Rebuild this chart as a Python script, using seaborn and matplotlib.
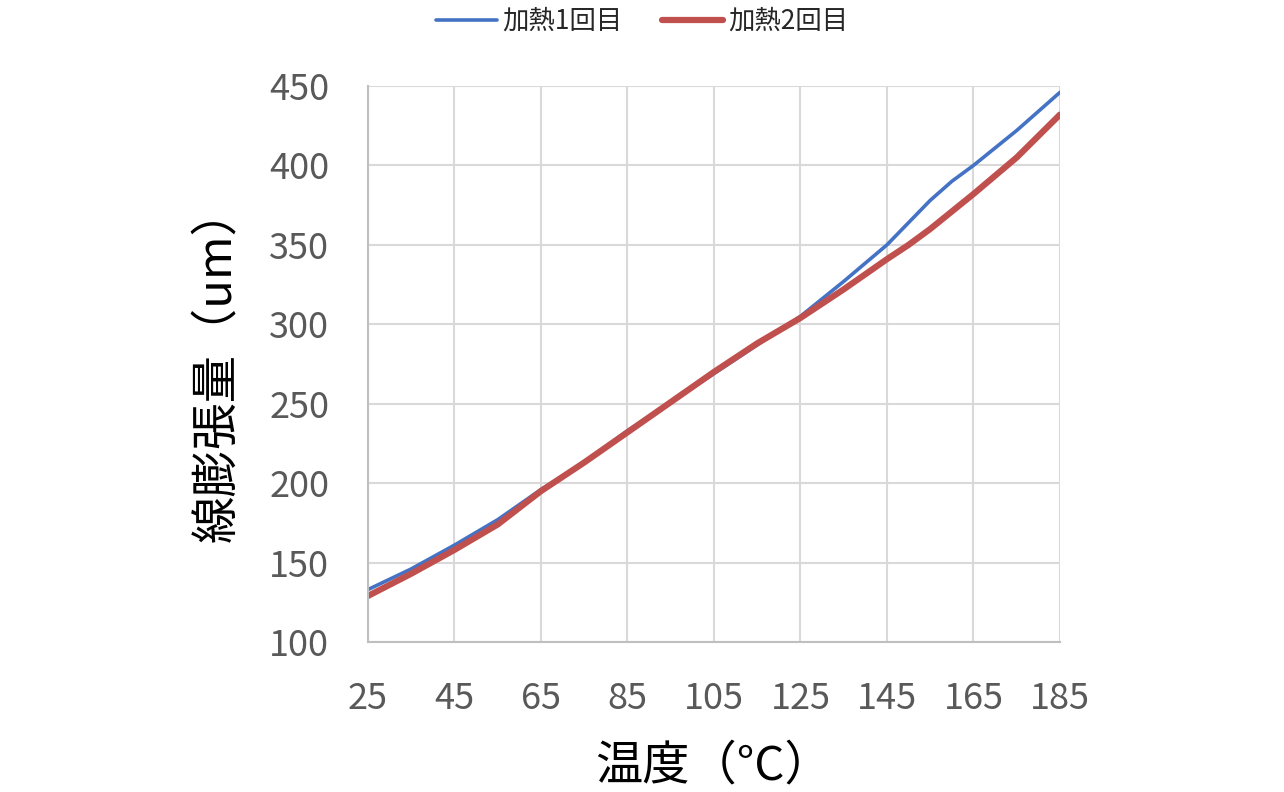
import matplotlib
matplotlib.use("Agg")
import pandas as pd
import matplotlib.pyplot as plt
import seaborn as sns
from matplotlib.lines import Line2D

# データ
temps = [25, 35, 45, 55, 65, 75, 85, 95, 105, 115, 125, 135, 145, 150, 155, 160, 165, 175, 185]
heat1 = [133, 146, 161, 177, 196, 213, 233, 251, 269, 287, 305, 327, 350, 364, 378, 390, 400, 422, 446]
heat2 = [129, 143, 158, 174, 195, 213, 232, 251, 270, 288, 304, 322, 341, 350, 360, 371, 382, 405, 432]
series_names = ["加熱1回目", "加熱2回目"]
x_ticks = [25, 45, 65, 85, 105, 125, 145, 165, 185]
y_ticks = [100, 150, 200, 250, 300, 350, 400, 450]

df = pd.DataFrame({"温度": temps * 2,
                   "値": heat1 + heat2,
                   "系列": [series_names[0]] * len(temps) + [series_names[1]] * len(temps)})

sns.set_style("white")
plt.rcParams["font.family"] = ["Noto Sans CJK JP", "DejaVu Sans"]

fig = plt.figure(figsize=(12.84, 7.92), dpi=100)
ax = fig.add_axes([0.2866, 0.1894, 0.5389, 0.702])

palette = {series_names[0]: "#4472C4", series_names[1]: "#C0504D"}
sns.lineplot(data=df, x="温度", y="値", hue="系列", palette=palette, ax=ax,
             size="系列", sizes={series_names[0]: 2.6, series_names[1]: 4.5},
             legend=False)
for line in ax.lines:
    line.set_solid_capstyle("round")
    line.set_solid_joinstyle("round")

ax.set_xlim(25, 185)
ax.set_ylim(100, 450)
ax.set_xticks(x_ticks)
ax.set_yticks(y_ticks)
ax.grid(True, color="#D9D9D9", linewidth=1.5)
ax.set_axisbelow(True)
for s in ["top", "right"]:
    ax.spines[s].set_visible(False)
for s in ["left", "bottom"]:
    ax.spines[s].set_color("#BFBFBF")
    ax.spines[s].set_linewidth(1.5)
ax.tick_params(axis="both", length=0, labelsize=26, labelcolor="#595959")
ax.tick_params(axis="x", pad=28)
ax.tick_params(axis="y", pad=28)
ax.set_xlabel("温度（°C）", fontsize=34, color="#000000", labelpad=18)
ax.set_ylabel("線膨張量（um）", fontsize=34, color="#000000", labelpad=20)

# 凡例
handles = [Line2D([], [], color="#4472C4", lw=2.6, solid_capstyle="round"),
           Line2D([], [], color="#C0504D", lw=4.5, solid_capstyle="round")]
fig.legend(handles, series_names, loc="upper center", bbox_to_anchor=(0.5, 1.02),
           ncol=2, frameon=False, fontsize=19, handlelength=2.3, columnspacing=1.5,
           handletextpad=0.2)

fig.savefig("out.png", dpi=100)
